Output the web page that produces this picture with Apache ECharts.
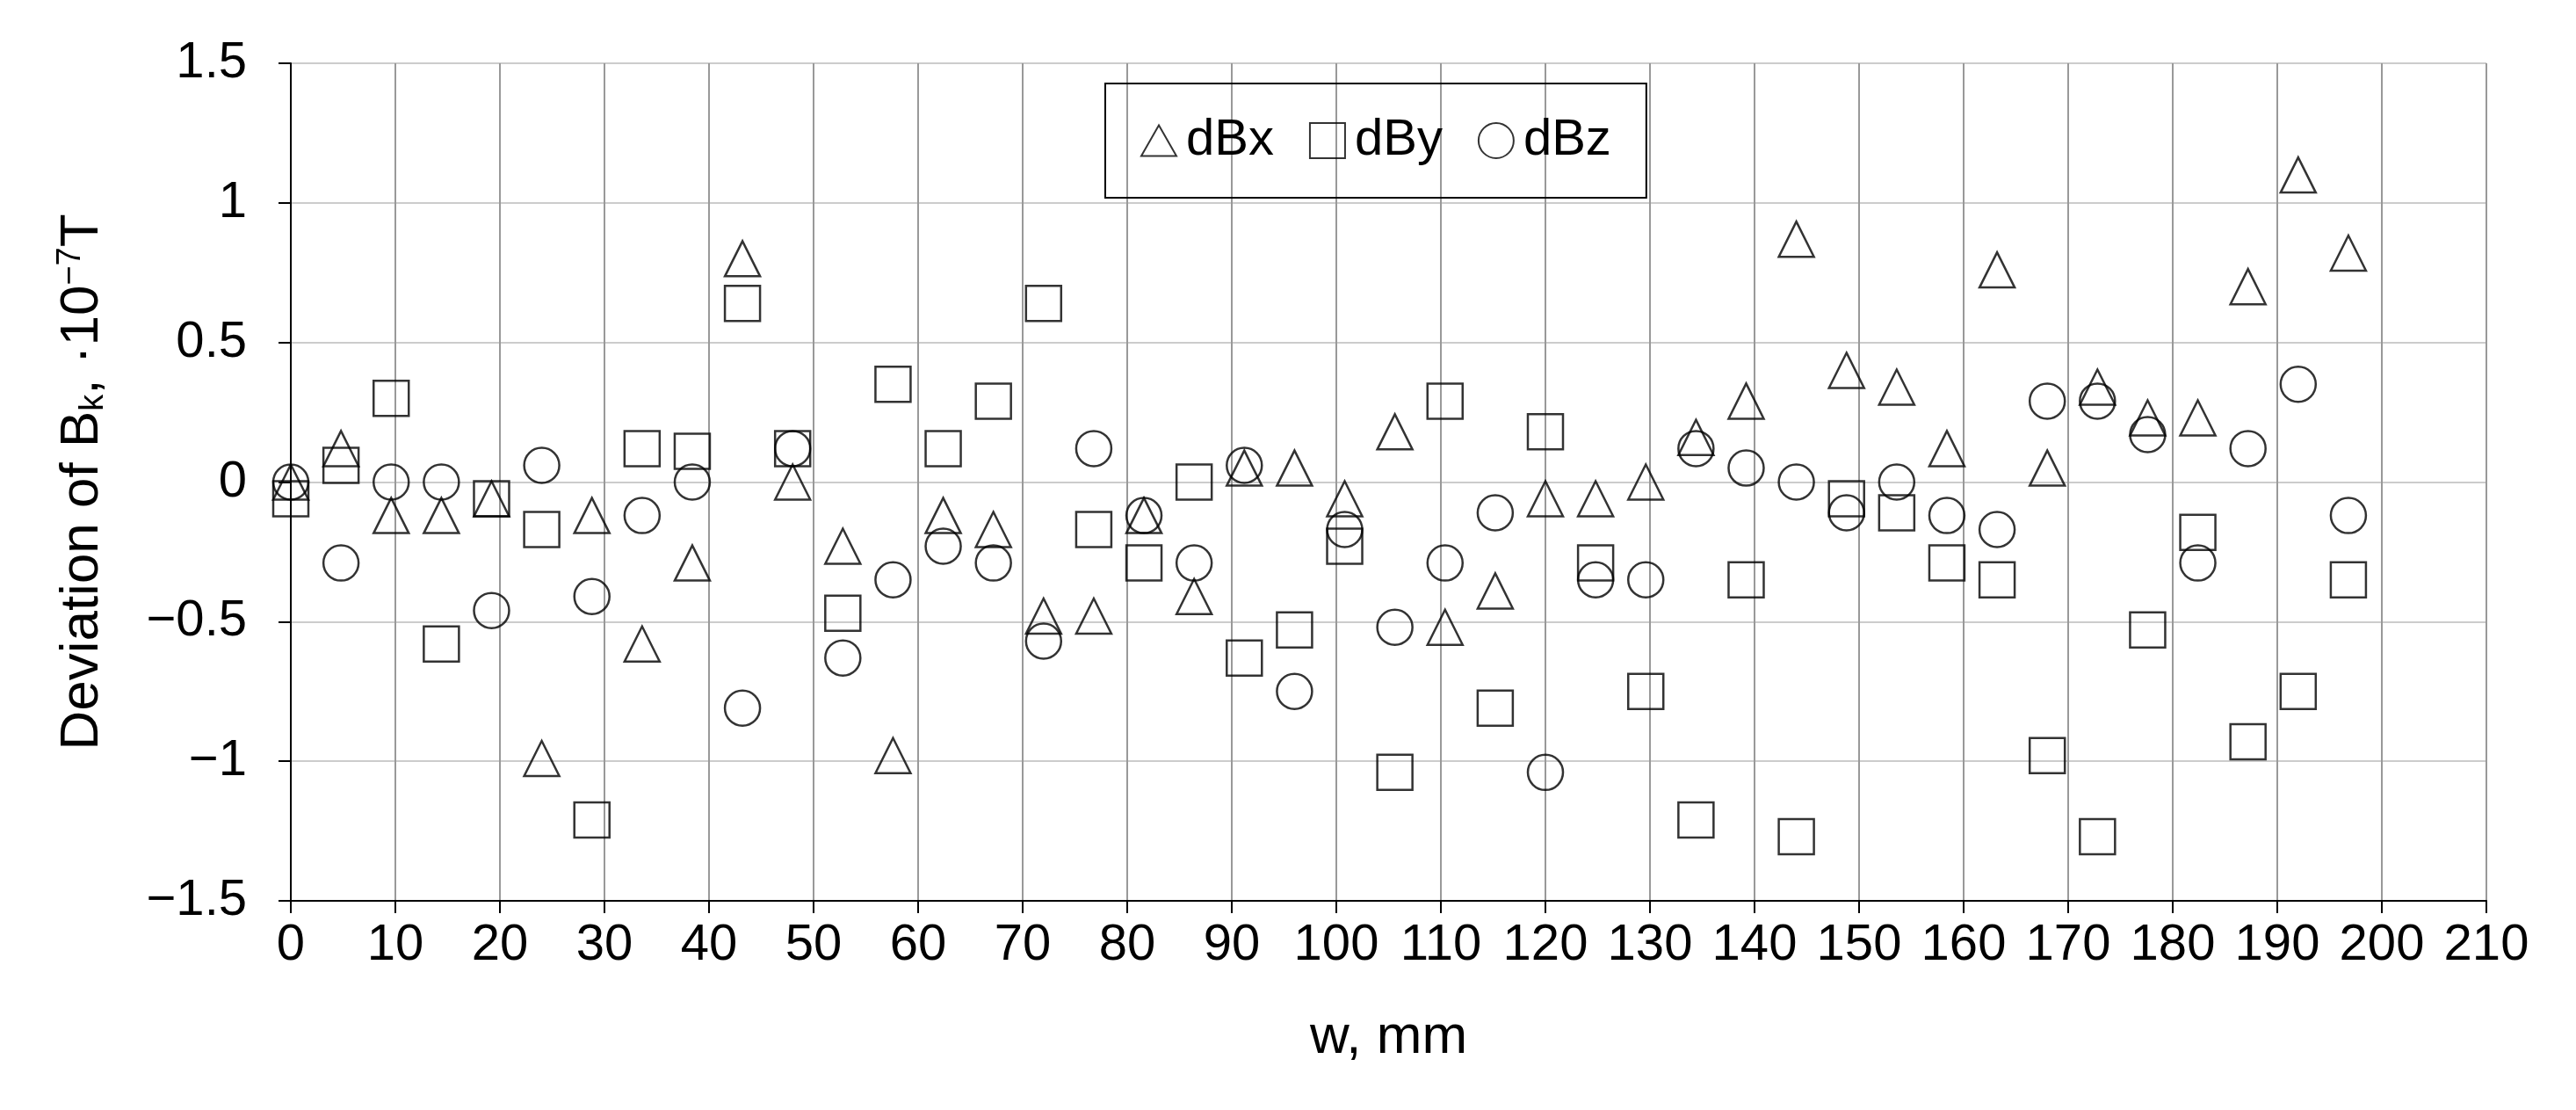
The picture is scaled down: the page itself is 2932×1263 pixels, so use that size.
<!DOCTYPE html>
<html><head><meta charset="utf-8">
<script src="https://cdn.jsdelivr.net/npm/echarts@6/dist/echarts.min.js"></script>
<style>html,body{margin:0;padding:0;background:#fff}#main{width:2932px;height:1263px}</style>
</head><body><div id="main"></div>
<script>
var wPos = [0, 4.8, 9.6, 14.4, 19.2, 24, 28.8, 33.6, 38.4, 43.2, 48, 52.8, 57.6, 62.4, 67.2, 72, 76.8, 81.6, 86.4, 91.2, 96,
  100.8, 105.6, 110.4, 115.2, 120, 124.8, 129.6, 134.4, 139.2, 144, 148.8, 153.6, 158.4, 163.2, 168, 172.8, 177.6, 182.4, 187.2, 192, 196.8];
var dBx = [0, 0.12, -0.12, -0.12, -0.06, -0.99, -0.12, -0.58, -0.29, 0.80, 0, -0.23, -0.98, -0.12, -0.17, -0.48, -0.48, -0.12, -0.41, 0.05, 0.05,
  -0.06, 0.18, -0.52, -0.39, -0.06, -0.06, 0, 0.16, 0.29, 0.87, 0.40, 0.34, 0.12, 0.76, 0.05, 0.34, 0.23, 0.23, 0.70, 1.10, 0.82];
var dBy = [-0.06, 0.06, 0.30, -0.58, -0.06, -0.17, -1.21, 0.12, 0.11, 0.64, 0.12, -0.47, 0.35, 0.12, 0.29, 0.64, -0.17, -0.29, 0, -0.63, -0.53,
  -0.23, -1.04, 0.29, -0.81, 0.18, -0.29, -0.75, -1.21, -0.35, -1.27, -0.06, -0.11, -0.29, -0.35, -0.98, -1.27, -0.53, -0.18, -0.93, -0.75, -0.35];
var dBz = [0, -0.29, 0, 0, -0.46, 0.06, -0.41, -0.12, 0, -0.81, 0.12, -0.63, -0.35, -0.23, -0.29, -0.57, 0.12, -0.12, -0.29, 0.06, -0.75,
  -0.17, -0.52, -0.29, -0.11, -1.04, -0.35, -0.35, 0.12, 0.05, 0, -0.11, 0, -0.12, -0.17, 0.29, 0.29, 0.17, -0.29, 0.12, 0.35, -0.12];

var FONT = '"Liberation Sans Narrow", "Liberation Sans", sans-serif';
var myChart = echarts.init(document.getElementById('main'));
function pairs(ys) { return ys.map(function (v, i) { return [wPos[i], v]; }); }
function ser(name, sym, ys) {
  return {
    name: name, type: 'scatter', symbol: sym, symbolSize: 40, data: pairs(ys),
    itemStyle: { color: 'rgba(255,255,255,0)', borderColor: '#000', borderWidth: 2.5 }
  };
}
var tri = 'path://M50,0 L100,87 L0,87 Z';
myChart.setOption({
  animation: false,
  grid: { left: 331, right: 102, top: 72, bottom: 238 },
  legend: {
    left: 1258, top: 95, width: 657, height: 117, padding: [36, 40], itemGap: 40,
    borderColor: '#000', borderWidth: 2, itemWidth: 40, itemHeight: 40,
    textStyle: { fontFamily: FONT, fontSize: 58, color: '#000', padding: [0, 0, 0, 6] },
    data: [{ name: 'dBx', icon: tri }, { name: 'dBy', icon: 'rect' }, { name: 'dBz', icon: 'circle' }]
  },
  xAxis: {
    type: 'value', min: 0, max: 210, interval: 10,
    name: 'w, mm', nameLocation: 'middle', nameGap: 125,
    nameTextStyle: { fontFamily: FONT, fontSize: 62, color: '#000' },
    axisLine: { onZero: false, lineStyle: { color: '#000', width: 2 } },
    axisTick: { show: true, length: 14, lineStyle: { color: '#000', width: 2 } },
    axisLabel: { fontFamily: FONT, fontSize: 58, color: '#000', margin: 22 },
    splitLine: { show: true, lineStyle: { color: '#999', width: 2 } }
  },
  yAxis: {
    type: 'value', min: -1.5, max: 1.5, interval: 0.5,
    name: '{n|Deviation of B}{s|k}{n|, ·10}{p|−7}{n|T}', nameLocation: 'middle', nameGap: 205,
    nameTextStyle: {
      rich: {
        n: { fontFamily: FONT, fontSize: 62, color: '#000' },
        s: { fontFamily: FONT, fontSize: 38, color: '#000', verticalAlign: 'bottom', padding: [26, 0, 0, 0] },
        p: { fontFamily: FONT, fontSize: 38, color: '#000', verticalAlign: 'top', padding: [0, 0, 26, 0] }
      }
    },
    axisLine: { show: true, lineStyle: { color: '#000', width: 2 } },
    axisTick: { show: true, length: 14, lineStyle: { color: '#000', width: 2 } },
    axisLabel: {
      fontFamily: FONT, fontSize: 58, color: '#000', margin: 50,
      formatter: function (v) { return v === 0 ? '0' : String(v).replace('-', '−'); }
    },
    splitLine: { show: true, lineStyle: { color: '#ccc', width: 2 } }
  },
  series: [ser('dBx', tri, dBx), ser('dBy', 'rect', dBy), ser('dBz', 'circle', dBz)]
});
</script></body></html>
